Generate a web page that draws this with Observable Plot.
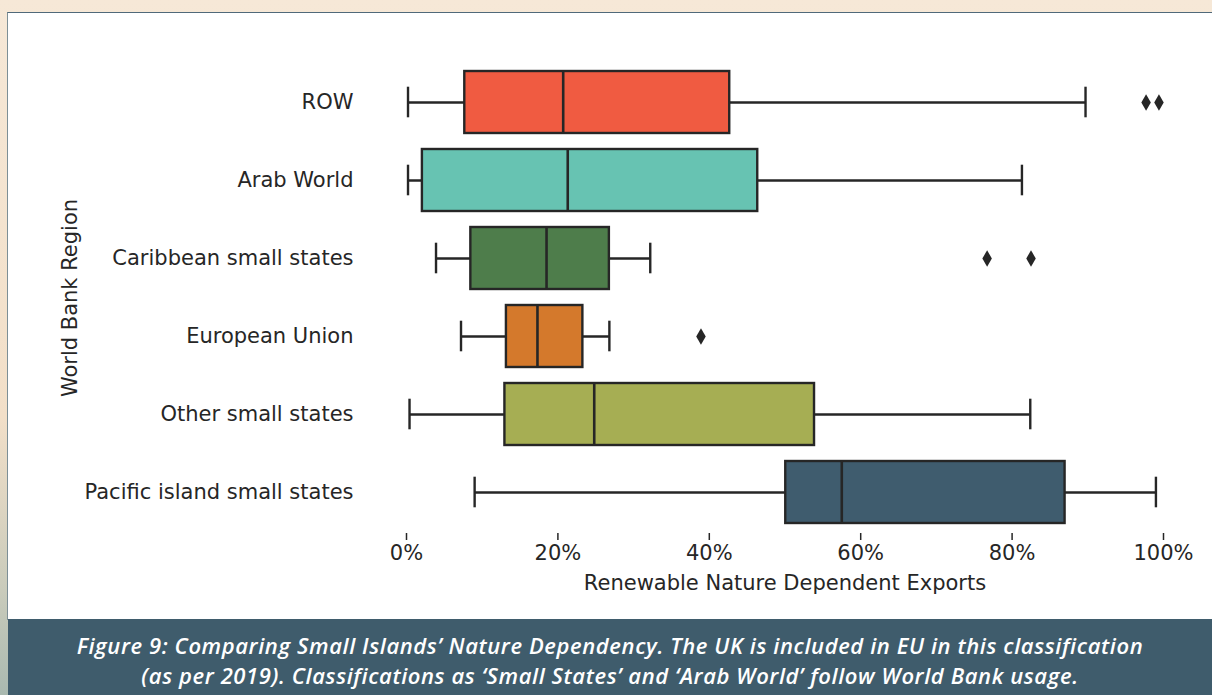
<!DOCTYPE html>
<html>
<head>
<meta charset="utf-8">
<script src="https://cdn.jsdelivr.net/npm/d3@7"></script>
<script src="https://cdn.jsdelivr.net/npm/@observablehq/plot@0.6"></script>
<style>
  html, body { margin: 0; padding: 0; }
  body {
    width: 1212px; height: 695px; overflow: hidden; position: relative;
    background: linear-gradient(180deg, #f6e8d7 0%, #f2dfc8 60%, #c9cbbb 85%, #a9b9b0 100%);
  }
  #frame {
    position: absolute; left: 7px; top: 12px; width: 1210px; height: 608px;
    border-top: 1px solid #50697a; border-left: 1px solid #7d8f96; box-sizing: border-box;
    background: #ffffff;
  }
  #chart { position: absolute; left: 8px; top: 13px; width: 1204px; height: 605px; }
  #caption {
    position: absolute; left: 8px; top: 619px; width: 1204px; height: 76px;
    background: #3f5c6c; color: #ffffff;
    font-family: "Open Sans", sans-serif; font-style: italic; font-weight: 600;
    font-size: 22px; letter-spacing: 0.6px; text-align: center;
    box-sizing: border-box; padding-top: 11px; white-space: nowrap;
  }
  #caption div { height: 30px; line-height: 30px; }
</style>
</head>
<body>
<div id="frame"></div>
<div id="chart"></div>
<div id="caption"><div>Figure 9: Comparing Small Islands’ Nature Dependency. The UK is included in EU in this classification</div><div>(as per 2019). Classifications as ‘Small States’ and ‘Arab World’ follow World Bank usage.</div></div>
<script>
const regions = ["ROW", "Arab World", "Caribbean small states", "European Union", "Other small states", "Pacific island small states"];
const whiskerLow  = [0.2, 0.2, 3.9, 7.2, 0.4, 9.0];
const q1          = [7.7, 2.1, 8.5, 13.2, 13.0, 50.1];
const median      = [20.7, 21.3, 18.5, 17.3, 24.8, 57.5];
const q3          = [42.7, 46.4, 26.8, 23.3, 53.9, 87.0];
const whiskerHigh = [89.7, 81.3, 32.2, 26.8, 82.4, 99.0];
const outlierRegion = ["ROW", "ROW", "Caribbean small states", "Caribbean small states", "European Union"];
const outlierValue  = [97.7, 99.4, 76.7, 82.5, 38.9];
const boxColors = ["#f05b41", "#67c3b2", "#4e7d4b", "#d4792c", "#a6ae53", "#3f5c6e"];
const xTicks = [0, 20, 40, 60, 80, 100];
const xLabel = "Renewable Nature Dependent Exports";
const yLabel = "World Bank Region";

const boxes = regions.map((r, i) => ({
  region: r, lo: whiskerLow[i], q1: q1[i], med: median[i], q3: q3[i], hi: whiskerHigh[i], color: boxColors[i]
}));
const outliers = outlierRegion.map((r, i) => ({region: r, value: outlierValue[i]}));

const ink = "#262626";
const capInset = 15.7;

const chart = Plot.plot({
  width: 1204,
  height: 605,
  marginLeft: 398,
  marginRight: 49,
  marginTop: 49,
  marginBottom: 85,
  style: {fontFamily: "DejaVu Sans", fontSize: "21px", color: ink, background: "white"},
  x: {domain: [0, 100]},
  y: {domain: regions, paddingInner: 0.2, paddingOuter: 0.1},
  marks: [
    Plot.axisX({ticks: xTicks, tickFormat: d => d + "%", tickSize: 7, tickPadding: 5, line: true, label: null, strokeWidth: 1.5, stroke: ink}),
    Plot.axisY({tickSize: 0, tickPadding: 53, label: null}),
    Plot.ruleY(boxes, {y: "region", x1: "lo", x2: "hi", stroke: ink, strokeWidth: 2.4}),
    Plot.tickX(boxes, {x: "lo", y: "region", stroke: ink, strokeWidth: 2.4, insetTop: capInset, insetBottom: capInset}),
    Plot.tickX(boxes, {x: "hi", y: "region", stroke: ink, strokeWidth: 2.4, insetTop: capInset, insetBottom: capInset}),
    Plot.barX(boxes, {y: "region", x1: "q1", x2: "q3", fill: "color", stroke: ink, strokeWidth: 2.4}),
    Plot.tickX(boxes, {x: "med", y: "region", stroke: ink, strokeWidth: 2.6}),
    Plot.dot(outliers, {x: "value", y: "region", symbol: "diamond", r: 5, fill: ink, stroke: "none"}),
    Plot.text([xLabel], {frameAnchor: "bottom", dy: 50, text: d => d, lineAnchor: "middle", fill: ink}),
    Plot.text([yLabel], {frameAnchor: "left", dx: -336, rotate: -90, text: d => d, textAnchor: "middle", lineAnchor: "middle", fill: ink})
  ]
});
document.getElementById("chart").appendChild(chart);
</script>
</body>
</html>
